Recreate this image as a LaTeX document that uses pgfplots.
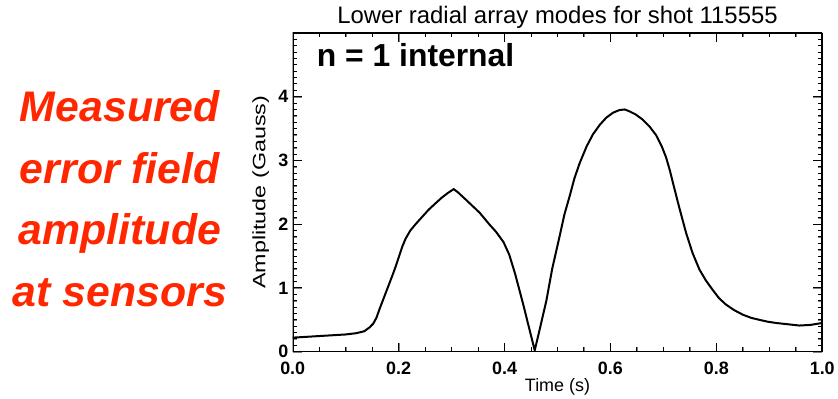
\documentclass[border=0pt]{standalone}
\usepackage{fontspec}
\setmainfont{Liberation Sans}
\usepackage{graphicx}
\usepackage{pgfplots}
\pgfplotsset{compat=1.18}
\definecolor{redtxt}{RGB}{255,38,0}
\begin{document}
\begin{tikzpicture}
\path (0bp,0bp) rectangle (838bp,399bp);
\begin{axis}[
  at={(293bp,47bp)}, anchor=south west,
  width=530bp, height=319bp, scale only axis,
  xmin=0, xmax=1, ymin=0, ymax=5,
  xtick={0,0.2,0.4,0.6,0.8,1.0},
  ytick={0,1,2,3,4},
  minor x tick num=3, minor y tick num=9,
  tick align=inside,
  major tick length=9bp, minor tick length=4.5bp,
  xticklabel style={/pgf/number format/fixed, /pgf/number format/fixed zerofill, /pgf/number format/precision=1, yshift=-7bp},
  yticklabel style={xshift=-1bp},
  tick label style={font=\bfseries\fontsize{18}{18}\selectfont},
  /pgf/number format/assume math mode=true,
  xlabel={Time (s)}, ylabel={\scalebox{1.3}[1]{Amplitude (Gauss)}},
  label style={font=\fontsize{18}{18}\selectfont},
  xlabel style={at={(axis description cs:0.5,-0.1254)}, anchor=base},
  ylabel style={at={(axis description cs:-0.0604,0.5)}, anchor=center},
]
\addplot[black, line width=2.2bp, forget plot] coordinates {(0,0) (1,0) (1,5) (0,5) (0,0) (1,0)};
\pgfplotsinvokeforeach{0.05,0.10,0.15,0.25,0.30,0.35,0.45,0.50,0.55,0.65,0.70,0.75,0.85,0.90,0.95}{
  \addplot[black, line width=1bp, forget plot] coordinates {(#1,0) (#1,0.07)};
  \addplot[black, line width=1bp, forget plot] coordinates {(#1,5) (#1,4.93)};
}
\pgfplotsinvokeforeach{0.2,0.4,0.6,0.8}{
  \addplot[black, line width=1bp, forget plot] coordinates {(#1,0) (#1,0.14)};
  \addplot[black, line width=1bp, forget plot] coordinates {(#1,5) (#1,4.86)};
}
\pgfplotsinvokeforeach{0.1,0.2,0.3,0.4,0.5,0.6,0.7,0.8,0.9,1.1,1.2,1.3,1.4,1.5,1.6,1.7,1.8,1.9,2.1,2.2,2.3,2.4,2.5,2.6,2.7,2.8,2.9,3.1,3.2,3.3,3.4,3.5,3.6,3.7,3.8,3.9,4.1,4.2,4.3,4.4,4.5,4.6,4.7,4.8,4.9}{
  \addplot[black, line width=1bp, forget plot] coordinates {(0,#1) (0.0085,#1)};
  \addplot[black, line width=1bp, forget plot] coordinates {(1,#1) (0.9915,#1)};
}
\pgfplotsinvokeforeach{1,2,3,4}{
  \addplot[black, line width=1bp, forget plot] coordinates {(0,#1) (0.017,#1)};
  \addplot[black, line width=1bp, forget plot] coordinates {(1,#1) (0.983,#1)};
}
\addplot[black, line width=2bp] coordinates {
(0.000,0.22) (0.020,0.23) (0.040,0.24) (0.060,0.25) (0.080,0.26) (0.100,0.27)
(0.120,0.29) (0.135,0.32) (0.145,0.38) (0.152,0.44) (0.158,0.53) (0.164,0.67)
(0.170,0.80) (0.176,0.93) (0.182,1.06) (0.188,1.19) (0.195,1.35) (0.201,1.50)
(0.207,1.65) (0.213,1.77) (0.222,1.90) (0.232,2.00) (0.245,2.12) (0.257,2.23)
(0.270,2.33) (0.282,2.42) (0.293,2.49) (0.304,2.55) (0.312,2.50) (0.325,2.40)
(0.339,2.29) (0.353,2.18) (0.371,2.00) (0.384,1.88) (0.398,1.72) (0.409,1.52)
(0.420,1.22) (0.428,0.97) (0.436,0.72) (0.444,0.45) (0.451,0.22) (0.457,0.02)
(0.465,0.30) (0.472,0.55) (0.479,0.80) (0.490,1.30) (0.504,1.81) (0.513,2.15)
(0.523,2.44) (0.532,2.72) (0.542,2.96) (0.555,3.22) (0.567,3.41) (0.580,3.56)
(0.592,3.67) (0.605,3.75) (0.617,3.79) (0.627,3.80) (0.636,3.77) (0.648,3.72)
(0.661,3.64) (0.674,3.53) (0.686,3.40) (0.697,3.22) (0.705,3.05) (0.712,2.85)
(0.718,2.65) (0.730,2.26) (0.743,1.86) (0.755,1.55) (0.768,1.29) (0.780,1.12)
(0.793,0.97) (0.805,0.84) (0.818,0.74) (0.834,0.65) (0.850,0.58) (0.866,0.53)
(0.881,0.50) (0.897,0.47) (0.913,0.45) (0.935,0.43) (0.957,0.41) (0.978,0.42)
(1.000,0.45)
};
\end{axis}
\node[anchor=base, inner sep=0, font=\fontsize{24}{24}\selectfont] at (558bp,375bp) {Lower radial array modes for shot 115555};
\node[anchor=base west, inner sep=0, font=\bfseries\fontsize{32}{32}\selectfont] at (317bp,332bp) {n = 1 internal};
\begin{scope}[every node/.style={anchor=base, inner sep=0, text=redtxt, font=\bfseries\itshape\fontsize{43}{43}\selectfont}]
\node at (120bp,277bp) {Measured};
\node at (120bp,215.5bp) {error field};
\node at (120bp,154bp) {amplitude};
\node at (120bp,92.5bp) {at sensors};
\end{scope}
\end{tikzpicture}
\end{document}
